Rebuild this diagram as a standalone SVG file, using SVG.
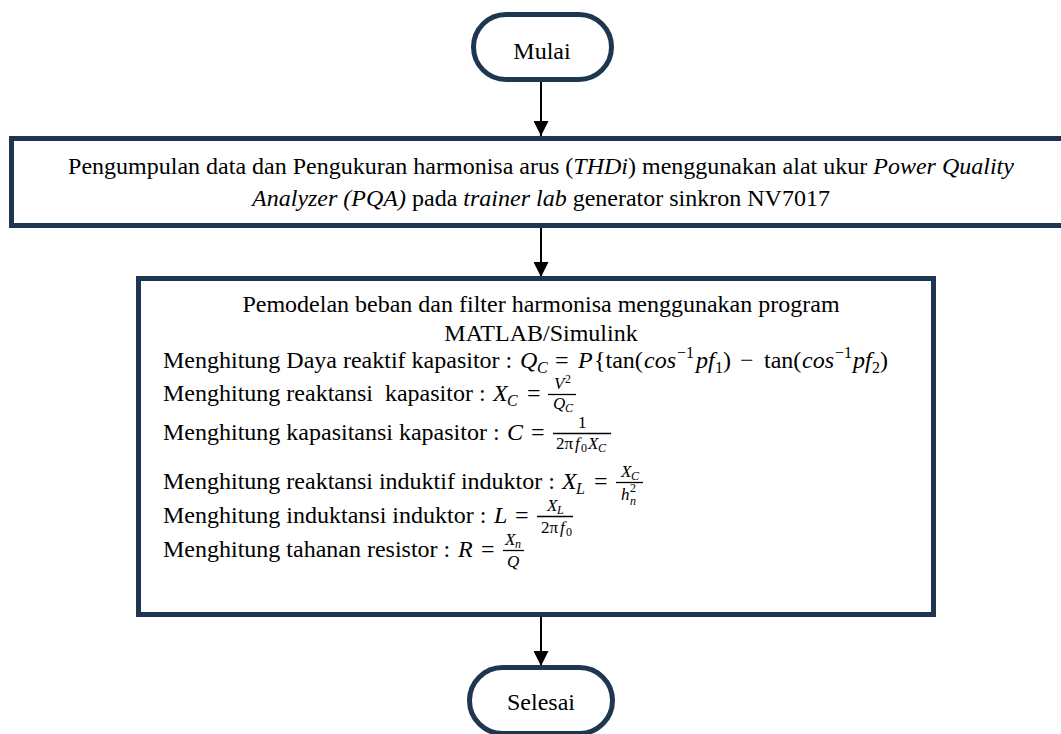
<svg xmlns="http://www.w3.org/2000/svg" width="1061" height="734" viewBox="0 0 1061 734">
<defs>
<marker id="ah" markerWidth="15" markerHeight="15" refX="15" refY="7.5" orient="auto" markerUnits="userSpaceOnUse" viewBox="0 0 15 15">
<path d="M0,0 L15,7.5 L0,15 z" fill="#000"/>
</marker>
<style>
.box{fill:#fff;stroke:#1f3651;stroke-width:5}
.t{font-family:"Liberation Serif","Times New Roman",serif;font-size:24px;fill:#000}
.i{font-style:italic}
.s{font-size:16px}
.f{font-size:17px}
.ss{font-size:12px}
.bar{stroke:#000;stroke-width:1.3}
.c{stroke:#000;stroke-width:2;fill:none}
</style>
</defs>
<rect width="1061" height="734" fill="#fff"/>
<g id="connectors">
<line class="c" x1="541" y1="82" x2="541" y2="136" marker-end="url(#ah)"/>
<line class="c" x1="541" y1="228" x2="541" y2="277" marker-end="url(#ah)"/>
<line class="c" x1="541" y1="617" x2="541" y2="666" marker-end="url(#ah)"/>
</g>
<g id="mulai">
<rect class="box" x="473.5" y="14.5" width="138" height="65" rx="32.5"/>
<text class="t" x="542" y="59" text-anchor="middle">Mulai</text>
</g>
<g id="pengumpulan">
<rect class="box" x="11.5" y="138.5" width="1062" height="87"/>
<text class="t" x="541" y="174" text-anchor="middle">Pengumpulan data dan Pengukuran harmonisa arus (<tspan class="i">THDi</tspan>) menggunakan alat ukur <tspan class="i">Power Quality</tspan></text>
<text class="t" x="541" y="206" text-anchor="middle"><tspan class="i">Analyzer (PQA)</tspan> pada <tspan class="i">trainer lab</tspan> generator sinkron NV7017</text>
</g>
<g id="pemodelan">
<rect class="box" x="138.5" y="278.5" width="795" height="336"/>
<text class="t" x="541" y="312" text-anchor="middle">Pemodelan beban dan filter harmonisa menggunakan program</text>
<text class="t" x="541" y="341" text-anchor="middle">MATLAB/Simulink</text>

<text class="t" x="163" y="368">Menghitung Daya reaktif kapasitor : </text>
<text class="t">
<tspan class="i" x="520" y="368">Q</tspan><tspan class="i s" x="537" y="373">C</tspan>
<tspan x="555" y="368">=</tspan><tspan class="i" x="578" y="368">P</tspan><tspan x="594" y="368">{tan(</tspan>
<tspan class="i" x="644" y="368">cos</tspan><tspan class="s" x="677" y="358">−1</tspan><tspan class="i" x="696" y="368">pf</tspan><tspan class="s" x="715" y="373">1</tspan><tspan x="723" y="368">)</tspan>
<tspan x="740" y="368">−</tspan><tspan x="764" y="368">tan(</tspan>
<tspan class="i" x="802" y="368">cos</tspan><tspan class="s" x="835" y="358">−1</tspan><tspan class="i" x="853" y="368">pf</tspan><tspan class="s" x="872" y="373">2</tspan><tspan x="880" y="368">)</tspan>
</text>

<text class="t" x="163" y="401" xml:space="preserve">Menghitung reaktansi  kapasitor : </text>
<text class="t">
<tspan class="i" x="493" y="401">X</tspan><tspan class="i s" x="507" y="406">C</tspan><tspan x="527" y="401">=</tspan>
<tspan class="i f" x="554" y="389">V</tspan><tspan class="ss" x="565" y="383">2</tspan>
<tspan class="i f" x="553" y="409">Q</tspan><tspan class="i ss" x="565" y="412">C</tspan>
</text>
<line class="bar" x1="548" y1="394.5" x2="576" y2="394.5"/>

<text class="t" x="163" y="440">Menghitung kapasitansi kapasitor : </text>
<text class="t">
<tspan class="i" x="507" y="440">C</tspan><tspan x="531" y="440">=</tspan>
<tspan class="f" x="578" y="428">1</tspan>
<tspan class="f" x="556" y="449">2π</tspan><tspan class="i f" x="575" y="449">f</tspan><tspan class="ss" x="581" y="452">0</tspan><tspan class="i f" x="588" y="449">X</tspan><tspan class="i ss" x="598" y="452">C</tspan>
</text>
<line class="bar" x1="553" y1="433.5" x2="611" y2="433.5"/>

<text class="t" x="163" y="489">Menghitung reaktansi induktif induktor : </text>
<text class="t">
<tspan class="i" x="562" y="489">X</tspan><tspan class="i s" x="576" y="494">L</tspan><tspan x="594" y="489">=</tspan>
<tspan class="i f" x="621" y="477">X</tspan><tspan class="i ss" x="631" y="480">C</tspan>
<tspan class="i f" x="621" y="500">h</tspan><tspan class="ss" x="630" y="492">2</tspan><tspan class="i ss" x="630" y="505">n</tspan>
</text>
<line class="bar" x1="616" y1="482.5" x2="643" y2="482.5"/>

<text class="t" x="163" y="523">Menghitung induktansi induktor : </text>
<text class="t">
<tspan class="i" x="494" y="523">L</tspan><tspan x="515" y="523">=</tspan>
<tspan class="i f" x="547" y="511">X</tspan><tspan class="i ss" x="557" y="514">L</tspan>
<tspan class="f" x="541" y="533">2π</tspan><tspan class="i f" x="560" y="533">f</tspan><tspan class="ss" x="566" y="536">0</tspan>
</text>
<line class="bar" x1="537" y1="516.5" x2="573" y2="516.5"/>

<text class="t" x="163" y="557">Menghitung tahanan resistor : </text>
<text class="t">
<tspan class="i" x="458" y="557">R</tspan><tspan x="481" y="557">=</tspan>
<tspan class="i f" x="505" y="545">X</tspan><tspan class="i ss" x="515" y="548">n</tspan>
<tspan class="i f" x="507" y="567">Q</tspan>
</text>
<line class="bar" x1="503" y1="550.5" x2="524" y2="550.5"/>
</g>
<g id="selesai">
<rect class="box" x="469.5" y="667.5" width="143" height="66" rx="33"/>
<text class="t" x="541" y="710" text-anchor="middle">Selesai</text>
</g>
</svg>
